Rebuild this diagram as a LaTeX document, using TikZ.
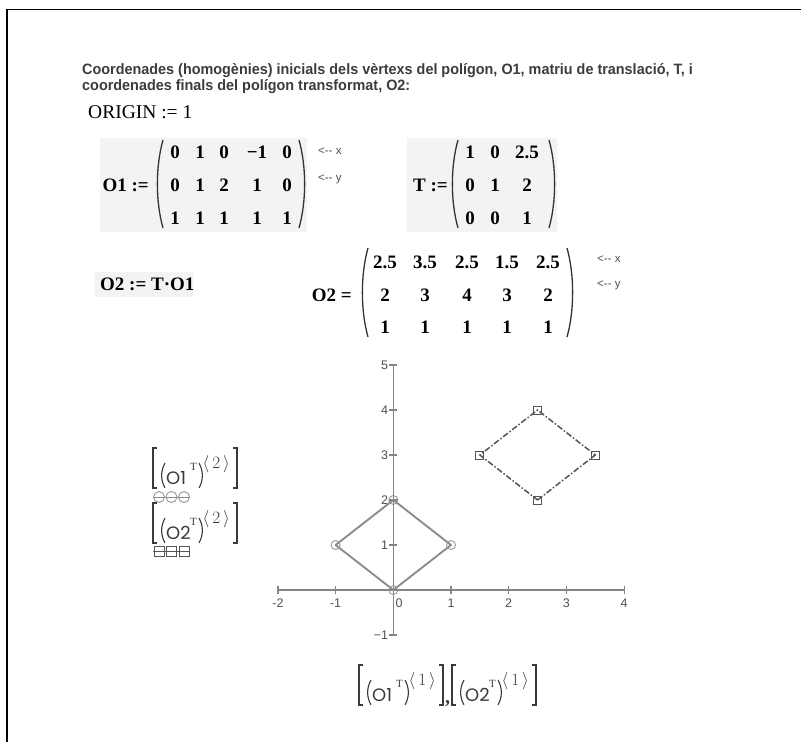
\documentclass[tikz,border=0pt]{standalone}
\usepackage{fontspec}
\setmainfont{Liberation Serif}
\newfontfamily\hdrfont[FakeStretch=0.96]{Liberation Sans}
\newfontfamily\smallsans{Liberation Sans}
\newfontfamily\geofont{Poppins}
\definecolor{hdrgray}{HTML}{3C3C3C}
\definecolor{boxgray}{HTML}{F3F3F3}
\definecolor{axgray}{HTML}{858585}
\definecolor{lblgray}{HTML}{505050}
\definecolor{polyA}{HTML}{8C8C8C}
\definecolor{polyB}{HTML}{555555}
\definecolor{leggray}{HTML}{3A3A3A}
\newcommand\Lpar[3]{\draw[paren] ({#1+6},#2) .. controls ({#1-1.5},{#2+(#3-#2)*0.3}) and ({#1-1.5},{#3-(#3-#2)*0.3}) .. ({#1+6},#3);}
\newcommand\Rpar[3]{\draw[paren] ({#1-6},#2) .. controls ({#1+1.5},{#2+(#3-#2)*0.3}) and ({#1+1.5},{#3-(#3-#2)*0.3}) .. ({#1-6},#3);}
\newcommand\ent[3]{\node[mcent] at (#1,#2) {#3};}
\tikzset{
  mcent/.style={anchor=base, inner sep=0, font=\bfseries\fontsize{19}{22}\selectfont, text=black},
  mclbl/.style={anchor=base east, inner sep=0, font=\bfseries\fontsize{19}{22}\selectfont, text=black},
  arrowlbl/.style={anchor=base west, inner sep=0, font=\smallsans\fontsize{11.5}{13}\selectfont, text=lblgray},
  paren/.style={line width=1.3pt, draw=black!80},
  hdr/.style={anchor=base west, inner sep=0, text=hdrgray, font=\hdrfont\bfseries\fontsize{15}{17}\selectfont},
  ticklbl/.style={inner sep=0, font=\smallsans\fontsize{12.5}{14}\selectfont, text=lblgray},
  axisline/.style={draw=axgray, line width=1.4pt},
  tickline/.style={draw=axgray, line width=1.2pt},
  polyAline/.style={draw=polyA, line width=1.9pt, line join=round},
  polyBline/.style={draw=polyB, line width=1.5pt, dash pattern=on 6pt off 2pt on 1.5pt off 2pt},
  circmark/.style={draw=polyA!90, line width=0.9pt, circle, minimum size=9pt, inner sep=0},
  sqmark/.style={draw=polyB, line width=0.9pt, rectangle, minimum size=8pt, inner sep=0},
  legdelim/.style={draw=leggray, line width=1.1pt},
  pics/legexpr/.style n args={2}{code={
    \draw[legdelim] (4,-36) -- (0,-36) -- (0,4) -- (4,4);
    \draw[legdelim] (12,-21) .. controls (7.5,-13) and (7.5,-4) .. (12,4);
    \node[anchor=base west, inner sep=0, font=\geofont\fontsize{18}{20}\selectfont, text=leggray] at (13,0) {O#1};
    \node[anchor=base west, inner sep=0, font=\fontsize{11}{12}\selectfont, text=leggray] at (37,-14) {T};
    \draw[legdelim] (46,-21) .. controls (50.5,-13) and (50.5,-4) .. (46,4);
    \node[anchor=base west, inner sep=0, font=\fontsize{19}{20}\selectfont, text=leggray] at (49.5,-16) {$\langle\,#2\,\rangle$};
    \draw[legdelim] (80,-36) -- (84,-36) -- (84,4) -- (80,4);
  }}
}
\begin{document}
\begin{tikzpicture}[x=1pt,y=-1pt]
\useasboundingbox (0,0) rectangle (801,742);
% frame
\draw[line width=1.5pt] (7,742) -- (7,9.5) -- (801,9.5);
% header
\node[hdr] (h1) at (82,74) {Coordenades (homogènies) inicials dels vèrtexs del polígon, O1, matriu de translació, T, i};
\node[hdr] (h2) at (82,90.5) {coordenades finals del polígon transformat, O2:};
% ORIGIN
\node[anchor=base west, inner sep=0, font=\fontsize{19.5}{22}\selectfont] (orig) at (88,118) {ORIGIN := 1};
% O1 matrix
\fill[boxgray] (100,138) rectangle (307,232);
\node[mclbl] (o1l) at (149,191.5) {O1 :=};
\Lpar{157}{140}{228}
\Rpar{305}{140}{228}
\foreach \x/\a/\b/\c in {175/0/0/1, 200/1/1/1, 224/0/2/1, 257/−1/1/1, 287/0/0/1}{
  \ent{\x}{158.5}{\a}\ent{\x}{191.5}{\b}\ent{\x}{224.5}{\c}}
\node[arrowlbl] (o1x) at (318,154) {<-- x};
\node[arrowlbl] (o1y) at (318,181) {<-- y};
% T matrix
\fill[boxgray] (407,138) rectangle (557,232);
\node[mclbl] (tl) at (448,191.5) {T :=};
\Lpar{452}{140}{228}
\Rpar{555}{140}{228}
\foreach \x/\a/\b/\c in {470/1/0/0, 495/0/1/0, 527/2.5/2/1}{
  \ent{\x}{158.5}{\a}\ent{\x}{191.5}{\b}\ent{\x}{224.5}{\c}}
% O2 := T.O1
\fill[boxgray] (95,272) rectangle (193,297);
\node[anchor=base west, inner sep=0, font=\bfseries\fontsize{19}{22}\selectfont] (o2def) at (100,290) {O2 := T·O1};
% O2 = matrix
\node[mclbl] (o2l) at (352,301.5) {O2 =};
\Lpar{362}{248}{337}
\Rpar{573}{248}{337}
\foreach \x/\a/\b/\c in {385/2.5/2/1, 425/3.5/3/1, 467/2.5/4/1, 507/1.5/3/1, 548/2.5/2/1}{
  \ent{\x}{268.5}{\a}\ent{\x}{301.5}{\b}\ent{\x}{333.5}{\c}}
\node[arrowlbl] (o2x) at (597,262) {<-- x};
\node[arrowlbl] (o2y) at (597,287) {<-- y};
% plot
\begin{scope}[shift={(393.3,590)}, x=57.7pt, y=45pt]
  \draw[axisline] (-2,0) -- (4,0);
  \draw[axisline] (0,-1) -- (0,5);
  \foreach \i in {-2,-1,0,1,2,3,4}{
    \draw[tickline] (\i,0) ++(0,-4pt) -- ++(0,8pt);}
  \foreach \i in {-1,0,1,2,3,4,5}{
    \draw[tickline] (0,\i) ++(-4pt,0) -- ++(8pt,0);}
  \foreach \i/\l in {-2/-2,-1/-1,1/1,2/2,3/3,4/4}{
    \node[ticklbl, anchor=north] at ([yshift=-9pt]\i,0) {\l};}
  \node[ticklbl, anchor=north west] at ([yshift=-9pt,xshift=2pt]0,0) {0};
  \foreach \i/\l in {-1/−1,1/1,2/2,3/3,4/4,5/5}{
    \node[ticklbl, anchor=east] at ([xshift=-5pt]0,\i) {\l};}
  % O1 polygon
  \draw[polyAline] (0,0) -- (1,1) -- (0,2) -- (-1,1) -- cycle;
  \foreach \p in {(0,0),(1,1),(0,2),(-1,1)}{\node[circmark] at \p {};}
  % O2 polygon
  \draw[polyBline] (2.5,2) -- (3.5,3) -- (2.5,4) -- (1.5,3) -- cycle;
  \foreach \p in {(2.5,2),(3.5,3),(2.5,4),(1.5,3)}{\node[sqmark] at \p {};}
\end{scope}
% legend
\pic (leg1) at (153,484) {legexpr={1}{2}};
\draw[polyA, line width=1pt] (153,497) -- (190,497);
\foreach \x in {159,171.5,184}{\node[circmark, minimum size=11pt] at (\x,497) {};}
\pic (leg2) at (153,539) {legexpr={2}{2}};
\draw[polyB, line width=1pt] (153,551) -- (190,551);
\foreach \x in {159,171.5,184}{\node[sqmark, minimum size=10pt] at (\x,551) {};}
% bottom label
\pic (xlab1) at (359,701) {legexpr={1}{1}};
\node[anchor=base west, inner sep=0, font=\bfseries\fontsize{20}{22}\selectfont, text=leggray] (comma) at (445,703) {,};
\pic (xlab2) at (452,701) {legexpr={2}{1}};
\end{tikzpicture}
\end{document}
